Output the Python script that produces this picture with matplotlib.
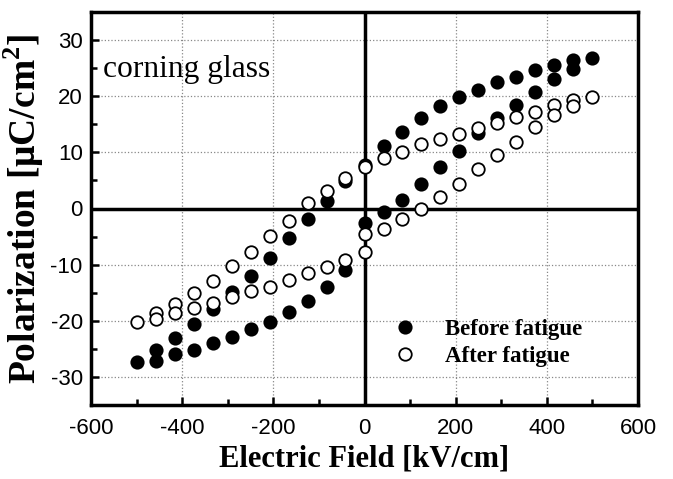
import matplotlib
matplotlib.use('Agg')
import matplotlib.pyplot as plt
from matplotlib.ticker import MultipleLocator

plt.rcParams['mathtext.fontset'] = 'custom'
plt.rcParams['mathtext.rm'] = 'Liberation Serif:bold'
plt.rcParams['mathtext.bf'] = 'Liberation Serif:bold'
plt.rcParams['axes.unicode_minus'] = False

# field steps, kV/cm (upper branch runs +Emax -> -Emax, lower branch back up)
e_down = [498, 457, 415, 374, 332, 291, 249, 208, 166, 125, 83, 42, 0,
          -42, -83, -125, -166, -208, -249, -291, -332, -374, -415, -457, -498]
e_up = [-457, -415, -374, -332, -291, -249, -208, -166, -125, -83, -42, 0,
        42, 83, 125, 166, 208, 249, 291, 332, 374, 415, 457]
e_up_after = [-457, -415, -374, -332, -291, -249, -208, -166, -125, -83, -42, 0, 0,
              42, 83, 125, 166, 208, 249, 291, 332, 374, 415, 457]

# polarization, uC/cm2
p_before_down = [26.8, 26.5, 25.6, 24.7, 23.5, 22.5, 21.1, 19.9, 18.3, 16.2, 13.7, 11.2, 7.8,
                 4.9, 1.3, -1.9, -5.3, -8.8, -12.1, -14.9, -17.9, -20.5, -23.1, -25.2, -27.3]
p_before_up = [-27.1, -26.0, -25.2, -24.0, -22.9, -21.4, -20.2, -18.4, -16.4, -13.9, -11.0, -2.5,
               -0.7, 1.5, 4.4, 7.4, 10.3, 13.4, 16.2, 18.4, 20.8, 23.0, 24.8]
p_after_down = [19.9, 19.4, 18.4, 17.2, 16.3, 15.3, 14.4, 13.3, 12.4, 11.5, 10.1, 9.0, 7.4,
                5.5, 3.1, 0.9, -2.2, -4.9, -7.7, -10.3, -12.9, -15.0, -17.0, -18.7, -20.3]
p_after_up = [-19.7, -18.6, -17.8, -16.9, -15.7, -14.7, -13.9, -12.8, -11.5, -10.5, -9.1, -7.7, -4.6,
              -3.6, -1.9, 0.0, 2.0, 4.4, 7.0, 9.5, 11.9, 14.5, 16.6, 18.2]

fig = plt.figure(figsize=(6.73, 4.79), dpi=100)
ax = fig.add_axes([91 / 673, 74 / 479, 547 / 673, 393 / 479])

ax.axhline(0, color='black', lw=2.5, zorder=2)
ax.axvline(0, color='black', lw=2.5, zorder=2)

ms = 9
ax.plot(e_down + e_up, p_before_down + p_before_up, 'o', ms=ms, color='black',
        mec='black', mew=1.2, ls='none', zorder=3, label='Before fatigue')
ax.plot(e_down + e_up_after, p_after_down + p_after_up, 'o', ms=ms, mfc='white',
        mec='black', mew=1.3, ls='none', zorder=4, label='After fatigue')

ax.set_xlim(-600, 600)
ax.set_ylim(-35, 35)
ax.xaxis.set_major_locator(MultipleLocator(200))
ax.xaxis.set_minor_locator(MultipleLocator(100))
ax.yaxis.set_major_locator(MultipleLocator(10))
ax.yaxis.set_minor_locator(MultipleLocator(5))
ax.grid(which='major', ls=':', color='#888888', lw=0.9, zorder=0)
ax.tick_params(which='both', direction='in', top=False, right=False,
               labelsize=16, width=1.8)
ax.tick_params(which='major', length=6)
ax.tick_params(which='minor', length=4)
ax.tick_params(axis='x', which='major', pad=9)
ax.tick_params(axis='y', which='major', pad=6)
for lbl in ax.get_xticklabels() + ax.get_yticklabels():
    lbl.set_family('Liberation Sans')
for sp in ax.spines.values():
    sp.set_linewidth(2.5)

ax.set_xlabel('Electric Field [kV/cm]', fontsize=22, fontweight='bold',
              family='Liberation Serif', labelpad=4)
ax.set_ylabel('Polarization [μC/cm$^{2}$]', fontsize=27, fontweight='bold',
              family='Liberation Serif', labelpad=3)

ax.text(0.022, 0.834, 'corning glass', transform=ax.transAxes, fontsize=22.7,
        family='Liberation Serif', va='baseline', ha='left')

ax.legend(loc='upper left', bbox_to_anchor=(0.515, 0.242), frameon=False,
          prop={'family': 'Liberation Serif', 'weight': 'bold', 'size': 16.5},
          handlelength=2.0, handletextpad=0.75, labelspacing=0.25, borderaxespad=0)

fig.savefig('out.png', dpi=100)
